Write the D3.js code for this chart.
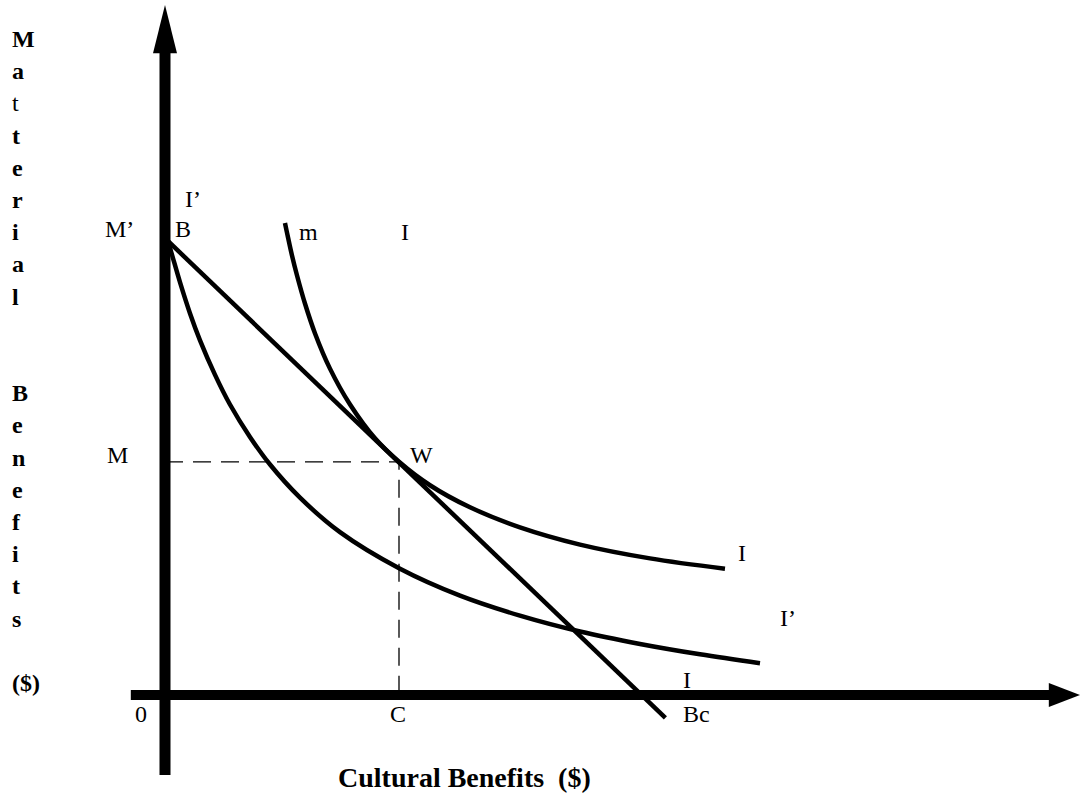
<!DOCTYPE html>
<html>
<head>
<meta charset="utf-8">
<script src="https://cdn.jsdelivr.net/npm/d3@7"></script>
<style>
  body { margin: 0; background: #fff; }
  text { font-family: "Liberation Serif", "Times New Roman", serif; fill: #000; }
</style>
</head>
<body>
<script>
// budget line, from B on the y axis down past Bc
let budgetX = [0, 55.6];
let budgetY = [66.2, -3.3];

// indifference curve I (the higher one, tangent at W)
let curveIX = [13.33, 13.67, 14.11, 14.67, 15.56, 16.67, 18.33, 20.56, 23.33, 26.0, 29.44, 33.89, 39.44, 46.11, 53.89, 62.22];
let curveIY = [68.4, 66.3, 63.7, 60.8, 56.7, 52.4, 47.3, 42.1, 37.2, 33.8, 30.4, 27.2, 24.3, 21.8, 19.8, 18.3];

// indifference curve I' (the lower one, starting at B)
let curveI2X = [0.33, 0.78, 1.67, 2.78, 3.89, 5.56, 7.22, 9.44, 11.67, 15.0, 19.44, 26.11, 32.78, 39.44, 46.11, 52.78, 59.44, 66.11];
let curveI2Y = [65.8, 63.8, 59.8, 55.3, 51.4, 46.4, 42.1, 37.4, 33.4, 28.6, 23.6, 18.3, 14.4, 11.5, 9.2, 7.4, 5.9, 4.6];

// point W (C, M)
let pointW = [26.0, 33.8];

// y axis title, one letter a line ('' = empty line)
let yTitle = ['M','a','t','t','e','r','i','a','l','','','B','e','n','e','f','i','t','s','','($)'];

let svg = d3.select('body')
  .append('svg')
  .attr('width', 1080)
  .attr('height', 796);

let x = d3.scaleLinear().domain([0, 100]).range([165, 1065]);
let y = d3.scaleLinear().domain([0, 100]).range([695, 5]);

let line = d3.line()
  .x(d => x(d[0]))
  .y(d => y(d[1]))
  .curve(d3.curveCatmullRom);

// axes: thick bars with arrow heads
svg.append('line')
  .attr('x1', x(0)).attr('x2', x(0))
  .attr('y1', y(-11.6)).attr('y2', y(94))
  .attr('stroke', '#000').attr('stroke-width', 11);
svg.append('path')
  .attr('d', `M${x(0) - 12},${y(93)} L${x(0) + 12},${y(93)} L${x(0)},${y(100)} Z`)
  .attr('fill', '#000');

svg.append('line')
  .attr('x1', x(-3.8)).attr('x2', x(98.5))
  .attr('y1', y(0)).attr('y2', y(0))
  .attr('stroke', '#000').attr('stroke-width', 10);
svg.append('path')
  .attr('d', `M${x(98.2)},${y(0) - 12} L${x(98.2)},${y(0) + 12} L${x(101.7)},${y(0)} Z`)
  .attr('fill', '#000');

// dashed guides to M and C
svg.append('path')
  .attr('d', `M${x(0)},${y(pointW[1])} H${x(pointW[0])} V${y(0)}`)
  .attr('fill', 'none')
  .attr('stroke', '#000')
  .attr('stroke-width', 1.3)
  .attr('stroke-dasharray', '18,10');

// budget line
svg.append('line')
  .attr('x1', x(budgetX[0])).attr('y1', y(budgetY[0]))
  .attr('x2', x(budgetX[1])).attr('y2', y(budgetY[1]))
  .attr('stroke', '#000').attr('stroke-width', 4.5);

// the two curves
let curves = [
  d3.zip(curveIX, curveIY),
  d3.zip(curveI2X, curveI2Y)
];
svg.selectAll('path.curve')
  .data(curves)
  .enter()
  .append('path')
  .attr('class', 'curve')
  .attr('d', line)
  .attr('fill', 'none')
  .attr('stroke', '#000')
  .attr('stroke-width', 4.5);

// point labels
let labels = [
  ['I\u2019', 185, 207],
  ['M\u2019', 105, 237],
  ['B', 175, 237],
  ['m', 299, 240],
  ['I', 403, 240],
  ['M', 107, 463],
  ['W', 410, 463],
  ['I', 740, 561],
  ['I\u2019', 780, 626],
  ['I', 685, 688],
  ['Bc', 683, 722],
  ['0', 135, 722],
  ['C', 390, 722]
];
svg.selectAll('text.lab')
  .data(labels)
  .enter()
  .append('text')
  .attr('class', 'lab')
  .attr('x', d => d[0] == 'I' ? d[1] - 2 : d[1])
  .attr('y', d => d[2])
  .attr('font-size', 24)
  .text(d => d[0]);

// y title, stacked letters (third letter is not bold in the original)
svg.selectAll('text.ytitle')
  .data(yTitle)
  .enter()
  .append('text')
  .attr('class', 'ytitle')
  .attr('x', 12)
  .attr('y', (d, i) => 47 + i * 32.2)
  .attr('font-size', 24)
  .attr('font-weight', (d, i) => i == 2 ? 'normal' : 'bold')
  .text(d => d);

// x title
svg.append('text')
  .attr('x', 338)
  .attr('y', 787)
  .attr('font-size', 28)
  .attr('font-weight', 'bold')
  .style('white-space', 'pre')
  .text('Cultural Benefits  ($)');
</script>
</body>
</html>
